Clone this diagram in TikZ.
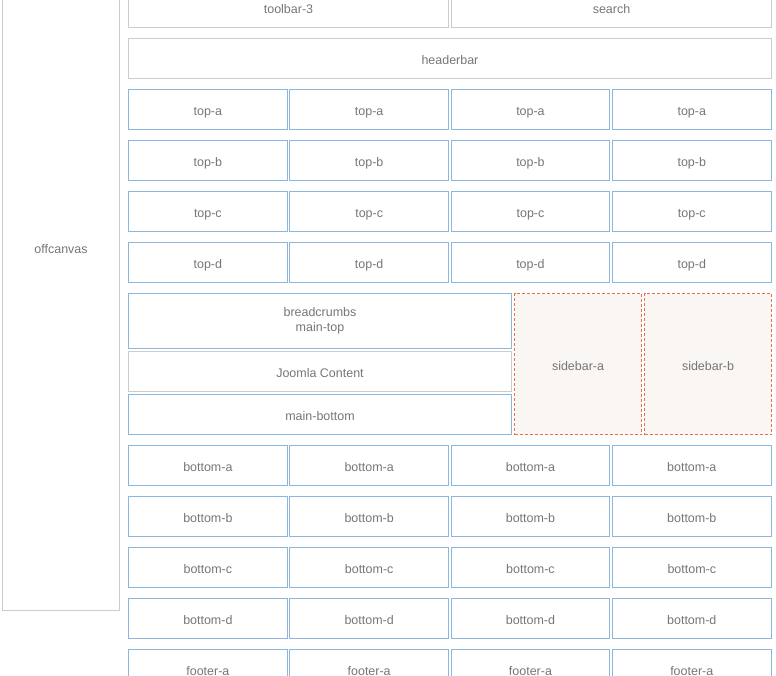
\documentclass[tikz,border=0pt]{standalone}
\usepackage{fontspec}
\setmainfont{Liberation Sans}
\usetikzlibrary{positioning}
\definecolor{CellBlue}{RGB}{140, 182, 222}
\definecolor{CellGray}{RGB}{204, 204, 204}
\definecolor{SideRed}{RGB}{240, 110, 70}
\definecolor{SideBg}{RGB}{249, 246, 243}
\definecolor{LabelGray}{RGB}{118, 118, 118}
\begin{document}
\begin{tikzpicture}[
    x=0.02cm, y=-0.02cm,
    box/.style={draw=CellBlue, line width=0.6pt, anchor=north west, inner sep=0pt, align=center, text=LabelGray, font=\fontsize{7.1}{8.5}\selectfont, minimum width=3.174cm, minimum height=0.8cm},
    cell/.style={box, text height=7pt, text depth=0pt},
    graycell/.style={cell, draw=CellGray},
    sidebox/.style={cell, draw=SideRed, fill=SideBg, dash pattern=on 0.06cm off 0.04cm}
]
\useasboundingbox (0,0) rectangle (776,675);
\clip (0,0) rectangle (776,675);
% left column
\node[graycell, minimum width=2.34cm, minimum height=14.52cm] (offcanvas) at (2,-116) {offcanvas};
% header area
\node[graycell, minimum width=6.4cm] (toolbar) at (128,-13) {toolbar-3};
\node[graycell, minimum width=6.4cm] (search) at (451,-13) {search};
\node[graycell, minimum width=12.86cm] (headerbar) at (128,38) {headerbar};
% module rows
\foreach \row/\ypos in {top-a/89, top-b/140, top-c/191, top-d/242, bottom-a/445, bottom-b/496, bottom-c/547, bottom-d/598, footer-a/649}{
    \foreach \col in {1,...,4}{
        \node[cell] (\row-\col) at ({128+(\col-1)*161.3}, \ypos) {\row};
    }
}
% main body
\node[box, minimum width=7.66cm, minimum height=1.1cm] (breadcrumbs) at (128,293) {breadcrumbs\\main-top};
\node[graycell, minimum width=7.66cm, anchor=north, below=0.04cm of breadcrumbs] (content) {Joomla Content};
\node[cell, minimum width=7.66cm, anchor=north, below=0.04cm of content] (mainbottom) {main-bottom};
\node[sidebox, minimum width=2.54cm, minimum height=2.82cm] (sidebar-a) at (514,293) {sidebar-a};
\node[sidebox, minimum width=2.54cm, minimum height=2.82cm] (sidebar-b) at (644,293) {sidebar-b};
\end{tikzpicture}
\end{document}
